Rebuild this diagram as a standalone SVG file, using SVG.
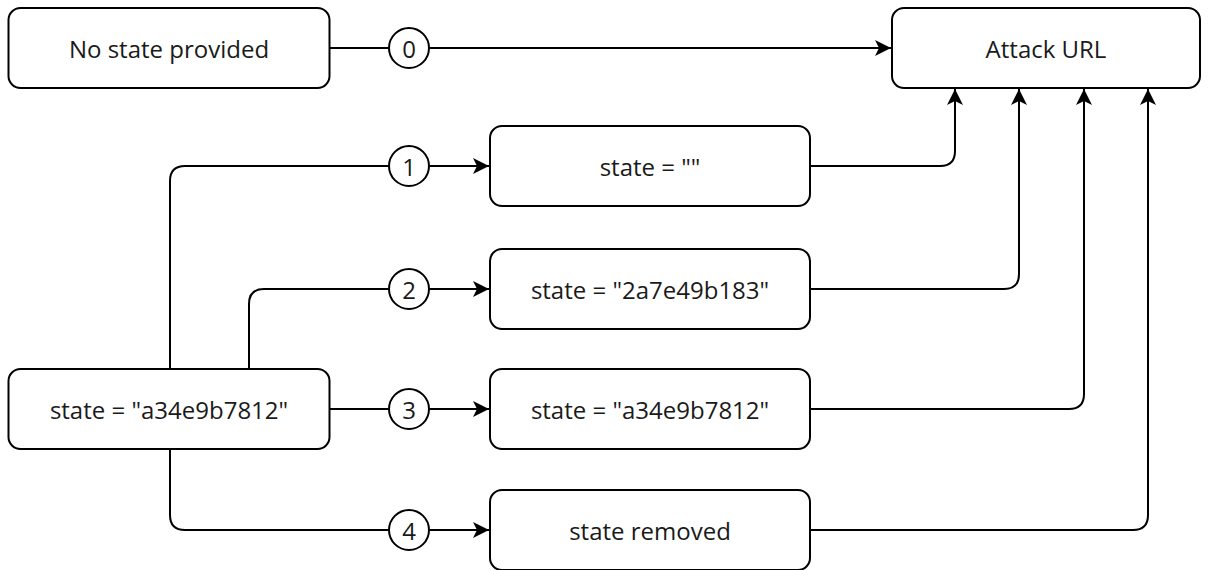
<svg xmlns="http://www.w3.org/2000/svg" width="1209" height="570" viewBox="0 0 1209 570">
<style>
.box{fill:#fff;stroke:#000;stroke-width:2}
.lbl{font-family:"Open Sans","Noto Sans",sans-serif;font-size:24px;fill:#1a1a1a;text-anchor:middle;dominant-baseline:central}
.edge{fill:none;stroke:#000;stroke-width:2}
.num{fill:#fff;stroke:#000;stroke-width:2}
</style>
<defs>
<marker id="arr" markerUnits="userSpaceOnUse" markerWidth="17" markerHeight="16" refX="16" refY="8" orient="auto">
<path d="M0,0 L16,8 L0,16 L4,8 Z" fill="#000"/>
</marker>
</defs>
<rect width="1209" height="570" fill="#fff"/>
<g id="connectors">
<path class="edge" d="M330,48 H891" marker-end="url(#arr)"/>
<path class="edge" d="M170,369 V181 Q170,166 185,166 H489" marker-end="url(#arr)"/>
<path class="edge" d="M249,369 V304 Q249,289 264,289 H489" marker-end="url(#arr)"/>
<path class="edge" d="M330,409 H489" marker-end="url(#arr)"/>
<path class="edge" d="M170,449 V515 Q170,530 185,530 H489" marker-end="url(#arr)"/>
<path class="edge" d="M810,166 H940 Q955,166 955,151 V89" marker-end="url(#arr)"/>
<path class="edge" d="M810,289 H1004 Q1019,289 1019,274 V89" marker-end="url(#arr)"/>
<path class="edge" d="M810,409 H1069 Q1084,409 1084,394 V89" marker-end="url(#arr)"/>
<path class="edge" d="M810,530 H1133 Q1148,530 1148,515 V89" marker-end="url(#arr)"/>
<g id="edge-labels">
<circle class="num" cx="409" cy="48" r="20"/><text class="lbl" x="409" y="48">0</text>
<circle class="num" cx="409" cy="166" r="20"/><text class="lbl" x="409" y="166">1</text>
<circle class="num" cx="409" cy="289" r="20"/><text class="lbl" x="409" y="289">2</text>
<circle class="num" cx="409" cy="409" r="20"/><text class="lbl" x="409" y="409">3</text>
<circle class="num" cx="409" cy="530" r="20"/><text class="lbl" x="409" y="530">4</text>
</g>
</g>
<g id="no-state"><rect class="box" x="8.5" y="8" width="321" height="80" rx="12"/><text class="lbl" x="169" y="48">No state provided</text></g>
<g id="attack-url"><rect class="box" x="892" y="8" width="308" height="80" rx="12"/><text class="lbl" x="1046" y="48">Attack URL</text></g>
<g id="state-empty"><rect class="box" x="490" y="126" width="320" height="80" rx="12"/><text class="lbl" x="650" y="166">state = ""</text></g>
<g id="state-2a7e"><rect class="box" x="490" y="249" width="320" height="80" rx="12"/><text class="lbl" x="650" y="289">state = "2a7e49b183"</text></g>
<g id="state-a34e-copy"><rect class="box" x="490" y="369" width="320" height="80" rx="12"/><text class="lbl" x="650" y="409">state = "a34e9b7812"</text></g>
<g id="state-removed"><rect class="box" x="490" y="490" width="320" height="80" rx="12"/><text class="lbl" x="650" y="530">state removed</text></g>
<g id="source"><rect class="box" x="8.5" y="369" width="321" height="80" rx="12"/><text class="lbl" x="169" y="409">state = "a34e9b7812"</text></g>
</svg>
